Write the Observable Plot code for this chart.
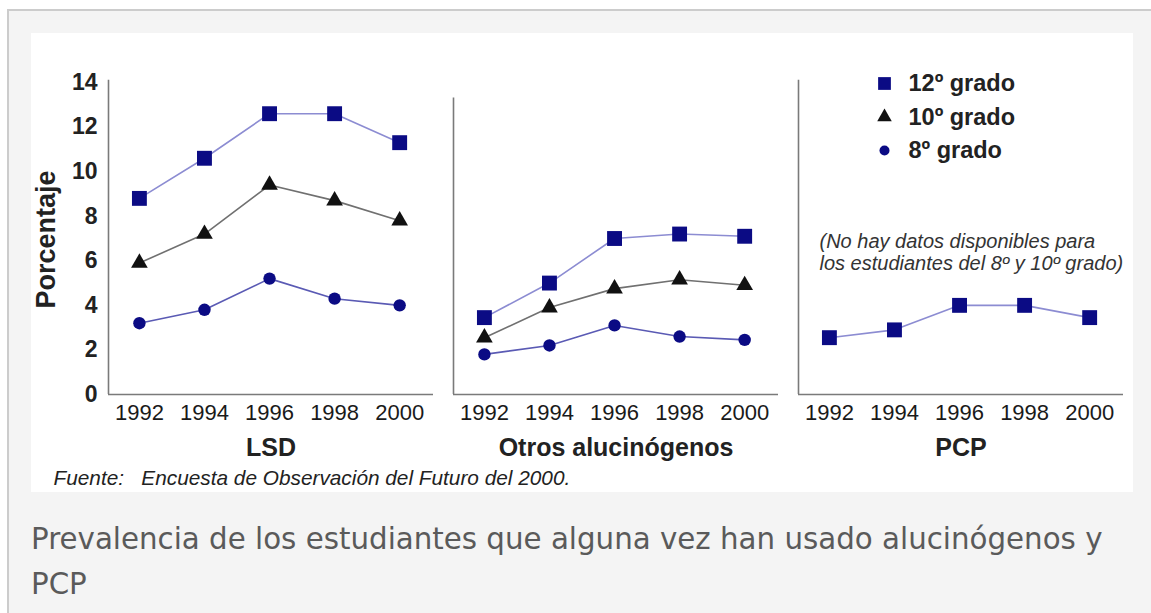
<!DOCTYPE html>
<html>
<head>
<meta charset="utf-8">
<script src="https://cdn.jsdelivr.net/npm/d3@7"></script>
<script src="https://cdn.jsdelivr.net/npm/@observablehq/plot@0.6"></script>
<style>
  html, body { margin: 0; padding: 0; background: #ffffff; width: 1151px; height: 613px; overflow: hidden; }
  #frame { position: absolute; left: 7px; top: 9px; width: 1170px; height: 640px; border: 2px solid #cccccc; background: #f4f4f4; box-sizing: border-box; }
  #chart { position: absolute; left: 31px; top: 33px; width: 1102px; height: 459px; background: #ffffff; }
  #chart svg { display: block; }
  #caption { position: absolute; left: 31px; top: 517px; width: 1115px; font-family: "DejaVu Sans", sans-serif; font-size: 29.3px; line-height: 45px; color: #5a5a5a; white-space: nowrap; }
</style>
</head>
<body>
<div id="frame"></div>
<div id="chart"></div>
<div id="caption">Prevalencia de los estudiantes que alguna vez han usado alucinógenos y<br>PCP</div>
<script>
// ---- data ----
const years = [1992, 1994, 1996, 1998, 2000];
const drugs = ["LSD", "Otros alucinógenos", "PCP"];
const grades = ["12º grado", "10º grado", "8º grado"];
const yTicks = [0, 2, 4, 6, 8, 10, 12, 14];

const lsd12 = [8.8, 10.6, 12.6, 12.6, 11.3];
const lsd10 = [5.9, 7.2, 9.4, 8.7, 7.8];
const lsd8  = [3.2, 3.8, 5.2, 4.3, 4.0];
const otros12 = [3.45, 5.0, 7.0, 7.2, 7.1];
const otros10 = [2.55, 3.9, 4.75, 5.15, 4.9];
const otros8  = [1.8, 2.2, 3.1, 2.6, 2.45];
const pcp12 = [2.55, 2.9, 4.0, 4.0, 3.45];

const axisTop = [14.1, 13.3, 14.1]; // top of each panel's vertical axis line

const yLabel = "Porcentaje";
const note = "(No hay datos disponibles para\nlos estudiantes del 8º y 10º grado)";
const source = "Fuente:\u00a0\u00a0 Encuesta de Observación del Futuro del 2000.";

// ---- table ----
const series = [
  [drugs[0], grades[0], lsd12], [drugs[0], grades[1], lsd10], [drugs[0], grades[2], lsd8],
  [drugs[1], grades[0], otros12], [drugs[1], grades[1], otros10], [drugs[1], grades[2], otros8],
  [drugs[2], grades[0], pcp12]
];
const rows = series.flatMap(([drug, grade, vals]) => vals.map((v, i) => ({drug, grade, year: years[i], value: v})));
const axisRows = drugs.map((d, i) => ({drug: d, top: axisTop[i]}));

// ---- styles ----
const style = {
  "12º grado": {line: "#8c8cd2", fill: "#0b0b84", symbol: "square", r: 8.4, lr: 7.2},
  "10º grado": {line: "#707070", fill: "#111111", symbol: "triangle", r: 6.2, lr: 5.4},
  "8º grado":  {line: "#5a5ab4", fill: "#0b0b84", symbol: "circle", r: 6.2, lr: 5.0}
};
const xMin = 1991.05, xMax = 2001.04;
const font = "Liberation Sans, Arial, Helvetica, sans-serif";

const marks = [
  Plot.ruleY([0], {stroke: "#7a7a7a", strokeWidth: 1.6}),
  Plot.ruleX(axisRows, {fx: "drug", x: () => xMin, y1: 0, y2: "top", stroke: "#7a7a7a", strokeWidth: 1.6}),
  Plot.axisY({ticks: yTicks, tickSize: 0, tickPadding: 11, fontSize: 23, fontWeight: "bold", fill: "#222", label: null}),
  Plot.axisX({ticks: years, tickFormat: "d", tickSize: 0, tickPadding: 10, fontSize: 22, fill: "#1a1a1a", label: null}),
  Plot.text(drugs, {fx: d => d, text: d => d, frameAnchor: "bottom", lineAnchor: "middle", dy: 53, fontSize: 25, fontWeight: "bold", fill: "#222"}),
  Plot.text([yLabel], {fx: () => drugs[0], text: d => d, frameAnchor: "left", textAnchor: "middle", lineAnchor: "middle", dx: -62, dy: 1, rotate: -90, fontSize: 27, fontWeight: "bold", fill: "#222"}),
  Plot.text([source], {fx: () => drugs[0], text: d => d, frameAnchor: "bottom-left", textAnchor: "start", lineAnchor: "middle", dx: -55, dy: 84, fontSize: 20.8, fontStyle: "italic", fill: "#222"}),
  Plot.text([note], {fx: () => drugs[2], text: d => d, frameAnchor: "top-left", textAnchor: "start", lineAnchor: "middle", dx: 21, dy: 169, lineHeight: 1.1, fontSize: 20, fontStyle: "italic", fill: "#333"})
];

for (const g of grades) {
  const s = style[g];
  marks.push(Plot.line(rows, {filter: d => d.grade === g, fx: "drug", x: "year", y: "value", stroke: s.line, strokeWidth: 1.6}));
}
for (const g of grades) {
  const s = style[g];
  marks.push(Plot.dot(rows, {filter: d => d.grade === g, fx: "drug", x: "year", y: "value", symbol: () => s.symbol, fill: s.fill, r: s.r, stroke: "none"}));
}
grades.forEach((g, i) => {
  const s = style[g];
  marks.push(Plot.dot([g], {fx: () => drugs[2], frameAnchor: "top-left", dx: 86, dy: 1 + i * 33.5, symbol: () => s.symbol, fill: s.fill, r: s.lr}));
  marks.push(Plot.text([g], {fx: () => drugs[2], text: d => d, frameAnchor: "top-left", textAnchor: "start", lineAnchor: "middle", dx: 110, dy: 1 + i * 33.5, fontSize: 23.5, fontWeight: "bold", fill: "#222"}));
});

const chart = Plot.plot({
  width: 1102,
  height: 459,
  marginLeft: 76,
  marginRight: 10,
  marginTop: 49,
  marginBottom: 98,
  style: {fontFamily: font, background: "transparent", overflow: "visible"},
  fx: {domain: drugs, paddingInner: 0.058, paddingOuter: 0, axis: null, label: null},
  x: {domain: [xMin, xMax], label: null},
  y: {domain: [0, 14], label: null},
  symbol: {domain: ["square", "triangle", "circle"], range: ["square", "triangle", "circle"]},
  marks
});
document.getElementById("chart").appendChild(chart);
</script>
</body>
</html>
